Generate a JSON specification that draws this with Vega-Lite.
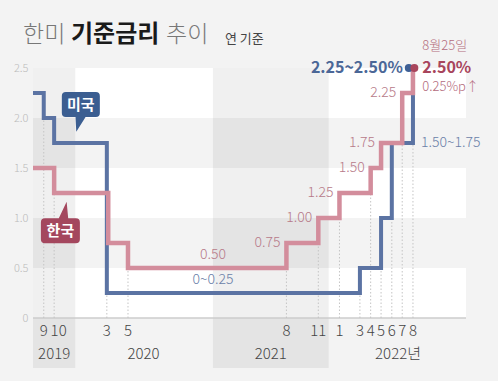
{
  "$schema": "https://vega.github.io/schema/vega-lite/v6.json",
  "width": 433,
  "height": 300,
  "autosize": "none",
  "padding": {"left": 33, "top": 68, "right": 32, "bottom": 13},
  "background": "#f3f3f3",
  "config": {"view": {"stroke": null}, "font": "Noto Sans CJK KR"},
  "datasets": {
    "stripes": [
      {"from": "2019-08-01", "to": "2023-01-01", "lo": 0, "hi": 0.5},
      {"from": "2019-08-01", "to": "2023-01-01", "lo": 1, "hi": 1.5},
      {"from": "2019-08-01", "to": "2023-01-01", "lo": 2, "hi": 2.5}
    ],
    "bands": [
      {"start": "2019-08-01", "end": "2019-12-01", "lo": -0.5, "hi": 2.5},
      {"start": "2021-01-01", "end": "2021-12-01", "lo": -0.5, "hi": 2.5}
    ],
    "rates": [
      {"country": "미국", "date": "2019-08-01", "rate": 2.25},
      {"country": "미국", "date": "2019-09-01", "rate": 2.0},
      {"country": "미국", "date": "2019-10-01", "rate": 1.75},
      {"country": "미국", "date": "2020-03-01", "rate": 0.25},
      {"country": "미국", "date": "2022-03-01", "rate": 0.5},
      {"country": "미국", "date": "2022-05-01", "rate": 1.0},
      {"country": "미국", "date": "2022-06-01", "rate": 1.75},
      {"country": "미국", "date": "2022-08-01", "rate": 2.5},
      {"country": "한국", "date": "2019-08-01", "rate": 1.5},
      {"country": "한국", "date": "2019-10-01", "rate": 1.25},
      {"country": "한국", "date": "2020-03-05", "rate": 0.75},
      {"country": "한국", "date": "2020-05-01", "rate": 0.5},
      {"country": "한국", "date": "2021-08-01", "rate": 0.75},
      {"country": "한국", "date": "2021-11-01", "rate": 1.0},
      {"country": "한국", "date": "2022-01-01", "rate": 1.25},
      {"country": "한국", "date": "2022-04-01", "rate": 1.5},
      {"country": "한국", "date": "2022-05-01", "rate": 1.75},
      {"country": "한국", "date": "2022-07-01", "rate": 2.25},
      {"country": "한국", "date": "2022-08-01", "rate": 2.5}
    ],
    "ticks": [
      {"date": "2019-09-01", "m": "9", "base": 0, "top": 2.0},
      {"date": "2019-10-01", "m": "10", "base": 0, "top": 1.25},
      {"date": "2020-03-01", "m": "3", "base": 0, "top": 0.25},
      {"date": "2020-05-01", "m": "5", "base": 0, "top": 0.5},
      {"date": "2021-08-01", "m": "8", "base": 0, "top": 0.5},
      {"date": "2021-11-01", "m": "11", "base": 0, "top": 0.75},
      {"date": "2022-01-01", "m": "1", "base": 0, "top": 1.0},
      {"date": "2022-03-01", "m": "3", "base": 0, "top": 0.25},
      {"date": "2022-04-01", "m": "4", "base": 0, "top": 1.25},
      {"date": "2022-05-01", "m": "5", "base": 0, "top": 0.5},
      {"date": "2022-06-01", "m": "6", "base": 0, "top": 1.0},
      {"date": "2022-07-01", "m": "7", "base": 0, "top": 1.75},
      {"date": "2022-08-01", "m": "8", "base": 0, "top": 1.75}
    ],
    "years": [
      {"label": "2019", "date": "2019-10-01"},
      {"label": "2020", "date": "2020-06-15"},
      {"label": "2021", "date": "2021-06-17"},
      {"label": "2022년", "date": "2022-06-19"}
    ],
    "krSteps": [
      {"date": "2021-08-01", "rate": 0.75, "t": "0.75"},
      {"date": "2021-11-01", "rate": 1.0, "t": "1.00"},
      {"date": "2022-01-01", "rate": 1.25, "t": "1.25"},
      {"date": "2022-04-01", "rate": 1.5, "t": "1.50"},
      {"date": "2022-05-01", "rate": 1.75, "t": "1.75"},
      {"date": "2022-07-01", "rate": 2.25, "t": "2.25"}
    ],
    "flat": [
      {"country": "한국", "date": "2021-01-01", "rate": 0.5, "t": "0.50"},
      {"country": "미국", "date": "2021-01-01", "rate": 0.25, "t": "0~0.25"}
    ],
    "ends": [
      {"country": "미국", "date": "2022-07-20", "rate": 2.5, "t": "2.25~2.50%"},
      {"country": "한국", "date": "2022-08-05", "rate": 2.5, "t": "2.50%", "day": "8월25일", "chg": "0.25%p↑"}
    ],
    "bubbles": [
      {"label": "미국", "date": "2019-12-17", "v": 2.135},
      {"label": "한국", "date": "2019-10-19", "v": 0.872}
    ]
  },
  "layer": [
    {
      "data": {"name": "stripes"},
      "mark": {"type": "rect", "color": "#ffffff"},
      "encoding": {
        "x": {"field": "from", "type": "temporal", "scale": {"domain": [1564617600000, 1672531200000]}, "axis": null},
        "x2": {"field": "to"},
        "y": {"field": "lo", "type": "quantitative", "scale": {"domain": [-0.5, 2.5], "nice": false, "zero": false},
          "axis": {"values": [0, 0.5, 1, 1.5, 2, 2.5], "labelExpr": "datum.value == 0 ? '0' : format(datum.value, '.1f')", "domain": false, "ticks": false, "grid": false, "title": null, "labelPadding": 5, "labelColor": "#bbbbbb", "labelFontSize": 11, "labelFontWeight": 300, "labelFont": "Noto Sans CJK KR"}},
        "y2": {"field": "hi"}
      }
    },
    {
      "data": {"name": "bands"},
      "mark": {"type": "rect", "color": "#000000", "opacity": 0.06},
      "encoding": {
        "x": {"field": "start", "type": "temporal"},
        "x2": {"field": "end"},
        "y": {"field": "lo", "type": "quantitative"},
        "y2": {"field": "hi"}
      }
    },
    {
      "data": {"values": [{}]},
      "mark": {"type": "rule", "color": "#cccccc", "strokeWidth": 1.5},
      "encoding": {"y": {"datum": 0, "type": "quantitative"}}
    },
    {
      "data": {"name": "ticks"},
      "mark": {"type": "rule", "color": "#c4c4c4", "strokeWidth": 1, "strokeDash": [1.5, 2]},
      "encoding": {
        "x": {"field": "date", "type": "temporal"},
        "y": {"field": "base", "type": "quantitative"},
        "y2": {"field": "top"}
      }
    },
    {
      "data": {"name": "rates"},
      "transform": [{"filter": "datum.country == '미국'"}],
      "mark": {"type": "line", "interpolate": "step-after", "color": "#5b73a3", "strokeWidth": 4},
      "encoding": {
        "x": {"field": "date", "type": "temporal"},
        "y": {"field": "rate", "type": "quantitative"}
      }
    },
    {
      "data": {"name": "rates"},
      "transform": [{"filter": "datum.country == '한국'"}],
      "mark": {"type": "line", "interpolate": "step-after", "color": "#d38d9c", "strokeWidth": 4.5},
      "encoding": {
        "x": {"field": "date", "type": "temporal"},
        "y": {"field": "rate", "type": "quantitative"}
      }
    },
    {
      "data": {"name": "ends"},
      "transform": [{"filter": "datum.country == '미국'"}],
      "mark": {"type": "point", "filled": true, "opacity": 1, "size": 64, "shape": "circle", "color": "#3e5f94"},
      "encoding": {
        "x": {"field": "date", "type": "temporal"},
        "y": {"field": "rate", "type": "quantitative"}
      }
    },
    {
      "data": {"name": "ends"},
      "transform": [{"filter": "datum.country == '한국'"}],
      "mark": {"type": "point", "filled": true, "opacity": 1, "size": 64, "shape": "circle", "color": "#a8455c"},
      "encoding": {
        "x": {"field": "date", "type": "temporal"},
        "y": {"field": "rate", "type": "quantitative"}
      }
    },
    {
      "data": {"name": "krSteps"},
      "mark": {"type": "text", "align": "right", "baseline": "middle", "dx": -6, "fontSize": 14, "fontWeight": 300, "color": "#b77a89"},
      "encoding": {
        "x": {"field": "date", "type": "temporal"},
        "y": {"field": "rate", "type": "quantitative"},
        "text": {"field": "t"}
      }
    },
    {
      "data": {"name": "flat"},
      "transform": [{"filter": "datum.country == '한국'"}],
      "mark": {"type": "text", "align": "center", "baseline": "middle", "dy": -13, "fontSize": 14, "fontWeight": 300, "color": "#b77a89"},
      "encoding": {
        "x": {"field": "date", "type": "temporal"},
        "y": {"field": "rate", "type": "quantitative"},
        "text": {"field": "t"}
      }
    },
    {
      "data": {"name": "flat"},
      "transform": [{"filter": "datum.country == '미국'"}],
      "mark": {"type": "text", "align": "center", "baseline": "middle", "dy": -13, "fontSize": 14, "fontWeight": 300, "color": "#6b7fa8"},
      "encoding": {
        "x": {"field": "date", "type": "temporal"},
        "y": {"field": "rate", "type": "quantitative"},
        "text": {"field": "t"}
      }
    },
    {
      "data": {"values": [{"date": "2022-08-01", "rate": 1.75, "t": "1.50~1.75"}]},
      "mark": {"type": "text", "align": "left", "baseline": "middle", "dx": 8, "fontSize": 14, "fontWeight": 300, "color": "#6b7fa8"},
      "encoding": {
        "x": {"field": "date", "type": "temporal"},
        "y": {"field": "rate", "type": "quantitative"},
        "text": {"field": "t"}
      }
    },
    {
      "data": {"name": "ends"},
      "transform": [{"filter": "datum.country == '미국'"}],
      "mark": {"type": "text", "align": "right", "baseline": "middle", "dx": -6, "fontSize": 16, "fontWeight": "bold", "color": "#4b6797"},
      "encoding": {
        "x": {"field": "date", "type": "temporal"},
        "y": {"field": "rate", "type": "quantitative"},
        "text": {"field": "t"}
      }
    },
    {
      "data": {"name": "ends"},
      "transform": [{"filter": "datum.country == '한국'"}],
      "mark": {"type": "text", "align": "left", "baseline": "middle", "dx": 8, "fontSize": 16, "fontWeight": "bold", "color": "#a8455c"},
      "encoding": {
        "x": {"field": "date", "type": "temporal"},
        "y": {"field": "rate", "type": "quantitative"},
        "text": {"field": "t"}
      }
    },
    {
      "data": {"name": "ends"},
      "transform": [{"filter": "datum.country == '한국'"}],
      "mark": {"type": "text", "align": "left", "baseline": "middle", "dx": 8, "dy": -22, "fontSize": 13, "fontWeight": 300, "color": "#b36b7c"},
      "encoding": {
        "x": {"field": "date", "type": "temporal"},
        "y": {"field": "rate", "type": "quantitative"},
        "text": {"field": "day"}
      }
    },
    {
      "data": {"name": "ends"},
      "transform": [{"filter": "datum.country == '한국'"}],
      "mark": {"type": "text", "align": "left", "baseline": "middle", "dx": 8, "dy": 19, "fontSize": 13, "fontWeight": 300, "color": "#b36b7c"},
      "encoding": {
        "x": {"field": "date", "type": "temporal"},
        "y": {"field": "rate", "type": "quantitative"},
        "text": {"field": "chg"}
      }
    },
    {
      "data": {"name": "ticks"},
      "transform": [{"filter": "datum.m != '10'"}],
      "mark": {"type": "text", "align": "center", "baseline": "middle", "fontSize": 15, "fontWeight": 300, "color": "#444444"},
      "encoding": {
        "x": {"field": "date", "type": "temporal"},
        "y": {"datum": -0.13, "type": "quantitative"},
        "text": {"field": "m"}
      }
    },
    {
      "data": {"name": "ticks"},
      "transform": [{"filter": "datum.m == '10'"}],
      "mark": {"type": "text", "align": "center", "baseline": "middle", "dx": 4.5, "fontSize": 15, "fontWeight": 300, "color": "#444444"},
      "encoding": {
        "x": {"field": "date", "type": "temporal"},
        "y": {"datum": -0.13, "type": "quantitative"},
        "text": {"field": "m"}
      }
    },
    {
      "data": {"name": "years"},
      "mark": {"type": "text", "align": "center", "baseline": "middle", "fontSize": 15, "fontWeight": 300, "color": "#444444"},
      "encoding": {
        "x": {"field": "date", "type": "temporal"},
        "y": {"datum": -0.36, "type": "quantitative"},
        "text": {"field": "label"}
      }
    },
    {
      "data": {"name": "bubbles"},
      "transform": [{"filter": "datum.label == '미국'"}],
      "mark": {"type": "point", "filled": true, "opacity": 1, "strokeWidth": 0, "size": 1444, "color": "#3b5e91",
        "shape": "M -0.79 -0.66 L 0.79 -0.66 Q 1 -0.66 1 -0.45 L 1 0.45 Q 1 0.66 0.79 0.66 L 0.25 0.66 L -0.24 1.43 L -0.28 0.66 L -0.79 0.66 Q -1 0.66 -1 0.45 L -1 -0.45 Q -1 -0.66 -0.79 -0.66 Z"},
      "encoding": {
        "x": {"field": "date", "type": "temporal"},
        "y": {"field": "v", "type": "quantitative"}
      }
    },
    {
      "data": {"name": "bubbles"},
      "transform": [{"filter": "datum.label == '한국'"}],
      "mark": {"type": "point", "filled": true, "opacity": 1, "strokeWidth": 0, "size": 1521, "color": "#a4475e",
        "shape": "M -0.79 -0.64 L -0.08 -0.64 L 0.32 -1.49 L 0.40 -0.64 L 0.79 -0.64 Q 1 -0.64 1 -0.43 L 1 0.43 Q 1 0.64 0.79 0.64 L -0.79 0.64 Q -1 0.64 -1 0.43 L -1 -0.43 Q -1 -0.64 -0.79 -0.64 Z"},
      "encoding": {
        "x": {"field": "date", "type": "temporal"},
        "y": {"field": "v", "type": "quantitative"}
      }
    },
    {
      "data": {"name": "bubbles"},
      "mark": {"type": "text", "align": "center", "baseline": "middle", "fontSize": 15, "fontWeight": "bold", "color": "#ffffff"},
      "encoding": {
        "x": {"field": "date", "type": "temporal"},
        "y": {"field": "v", "type": "quantitative"},
        "text": {"field": "label"}
      }
    },
    {
      "data": {"values": [{}]},
      "mark": {"type": "text", "text": "한미", "align": "left", "baseline": "middle", "dx": -10, "fontSize": 23, "fontWeight": 300, "color": "#777777"},
      "encoding": {
        "x": {"datum": {"year": 2019, "month": 8, "date": 1, "utc": true}, "type": "temporal"},
        "y": {"datum": 2.83, "type": "quantitative"}
      }
    },
    {
      "data": {"values": [{}]},
      "mark": {"type": "text", "text": "기준금리", "align": "left", "baseline": "middle", "dx": 38, "fontSize": 24, "fontWeight": "bold", "color": "#1a1a1a"},
      "encoding": {
        "x": {"datum": {"year": 2019, "month": 8, "date": 1, "utc": true}, "type": "temporal"},
        "y": {"datum": 2.83, "type": "quantitative"}
      }
    },
    {
      "data": {"values": [{}]},
      "mark": {"type": "text", "text": "추이", "align": "left", "baseline": "middle", "dx": 133, "fontSize": 23, "fontWeight": 300, "color": "#777777"},
      "encoding": {
        "x": {"datum": {"year": 2019, "month": 8, "date": 1, "utc": true}, "type": "temporal"},
        "y": {"datum": 2.83, "type": "quantitative"}
      }
    },
    {
      "data": {"values": [{}]},
      "mark": {"type": "text", "text": "연 기준", "align": "left", "baseline": "middle", "dx": 192, "dy": 4, "fontSize": 13, "color": "#444444"},
      "encoding": {
        "x": {"datum": {"year": 2019, "month": 8, "date": 1, "utc": true}, "type": "temporal"},
        "y": {"datum": 2.83, "type": "quantitative"}
      }
    }
  ]
}
